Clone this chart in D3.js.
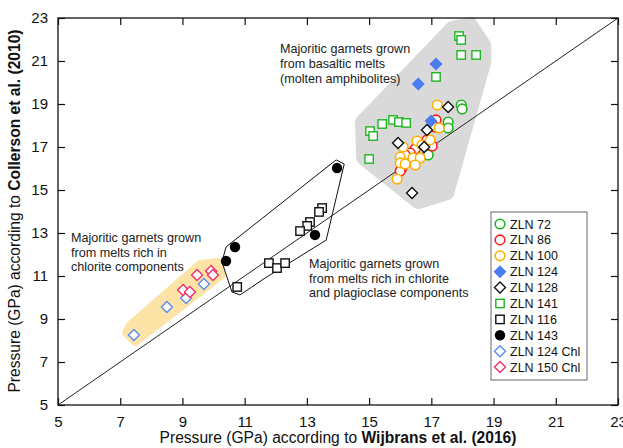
<!DOCTYPE html>
<html><head><meta charset="utf-8">
<script src="https://cdn.jsdelivr.net/npm/d3@7"></script>
<style>body{margin:0;background:#fff}svg{font-family:"Liberation Sans",Arial,sans-serif}</style>
</head><body><svg id="c" width="623" height="448"></svg>
<script>
const xTicks=[5,7,9,11,13,15,17,19,21,23];
const yTicks=[5,7,9,11,13,15,17,19,21,23];
const zln72=[[17.96,18.95],[17.99,18.77],[17.54,18.16],[17.54,17.88],[16.9,16.63]];
const zln86=[[17.15,18.26],[17.12,17.93],[16.86,17.33],[17.03,17.05],[16.48,16.91],[16.32,16.72],[16.16,16.63],[16.06,16.02],[16.0,15.88]];
const zln100=[[17.19,18.95],[17.25,17.88],[16.54,17.28],[16.96,17.33],[16.09,17.0],[16.0,16.53],[16.0,16.26],[16.16,16.21],[16.41,16.49],[16.64,16.49],[16.48,16.16],[16.7,17.09],[15.9,15.51]];
const zln124=[[17.15,20.86],[16.58,19.93],[16.99,18.21]];
const zln128=[[17.54,18.86],[16.86,17.79],[15.93,17.19],[16.77,17.0],[16.38,14.86]];
const zln141=[[17.89,22.16],[17.96,21.98],[17.96,21.28],[18.44,21.28],[17.15,20.26],[15.03,17.74],[15.13,17.51],[15.42,18.07],[15.77,18.26],[15.96,18.16],[16.19,18.12],[15.0,16.44]];
const zln116=[[13.49,14.16],[13.39,13.98],[13.1,13.51],[13.01,13.33],[12.78,13.09],[11.78,11.6],[12.04,11.37],[12.3,11.6],[10.76,10.49]];
const zln143=[[13.97,16.02],[13.26,12.91],[10.69,12.35],[10.4,11.7]];
const zln124chl=[[7.44,8.26],[8.5,9.56],[9.12,9.98],[9.69,10.63]];
const zln150chl=[[9.02,10.35],[9.24,10.26],[9.47,11.05],[9.92,11.23],[9.98,11.05]];
const basalticZone=[[17.67,22.53],[18.25,22.72],[18.7,21.74],[18.7,20.95],[17.51,14.86],[16.58,14.44],[14.81,16.49],[14.77,18.16]];
const chloriteZone=[[7.19,8.35],[7.48,7.93],[10.27,11.05],[10.14,11.65],[9.57,11.56],[7.32,8.72]];
const plagZone=[[13.94,16.4],[14.2,16.21],[13.62,12.67],[11.66,10.91],[10.85,10.12],[10.59,10.26],[10.27,11.65],[10.4,12.35]];
const legendLabels=["ZLN 72","ZLN 86","ZLN 100","ZLN 124","ZLN 128","ZLN 141","ZLN 116","ZLN 143","ZLN 124 Chl","ZLN 150 Chl"];

const svg=d3.select("#c");
const L=58,R=618,T=18,B=405;
const x=d3.scaleLinear().domain([5,23]).range([L,R]);
const y=d3.scaleLinear().domain([5,23]).range([B,T]);

const series=[
 {d:zln141,shape:"square",stroke:"#1fb51f",fill:"#fff"},
 {d:zln72,shape:"circle",stroke:"#1fb51f",fill:"#fff"},
 {d:zln86,shape:"circle",stroke:"#ff1a1a",fill:"#fff"},
 {d:zln100,shape:"circle",stroke:"#ffb000",fill:"#fff"},
 {d:zln124,shape:"diamond",stroke:"#4b7df0",fill:"#4b7df0"},
 {d:zln128,shape:"diamond",stroke:"#111",fill:"#fff"},
 {d:zln116,shape:"square",stroke:"#111",fill:"#fff"},
 {d:zln143,shape:"dot",stroke:"#000",fill:"#000"},
 {d:zln124chl,shape:"diamond",stroke:"#5a8cf2",fill:"#fff"},
 {d:zln150chl,shape:"diamond",stroke:"#f0306a",fill:"#fff"}
];
const legendStyle=[series[1],series[2],series[3],series[4],series[5],series[0],series[6],series[7],series[8],series[9]];

// zones
const line=d3.line().x(d=>x(d[0])).y(d=>y(d[1])).curve(d3.curveLinearClosed);
svg.append("path").attr("d",line(basalticZone)).attr("fill","#d9d9d9").attr("stroke","#d9d9d9").attr("stroke-width",14).attr("stroke-linejoin","round");
svg.append("path").attr("d",line(chloriteZone)).attr("fill","#fde4a6").attr("stroke","#fde4a6").attr("stroke-width",8).attr("stroke-linejoin","round");
svg.append("path").attr("d",line(plagZone)).attr("fill","none").attr("stroke","#111").attr("stroke-width",1).attr("stroke-linejoin","round");

// 1:1 line
svg.append("line").attr("x1",x(5)).attr("y1",y(5)).attr("x2",x(23)).attr("y2",y(23)).attr("stroke","#222").attr("stroke-width",1);

// axes box with inward ticks
svg.append("rect").attr("x",L).attr("y",T).attr("width",R-L).attr("height",B-T).attr("fill","none").attr("stroke","#111").attr("stroke-width",1.3);
const tl=7;
const gx=svg.append("g").attr("transform",`translate(0,${B})`).call(d3.axisBottom(x).tickValues(xTicks).tickSize(-tl).tickPadding(tl+4).tickFormat(d3.format("d")));
const gxt=svg.append("g").attr("transform",`translate(0,${T})`).call(d3.axisTop(x).tickValues(xTicks).tickSize(-tl).tickFormat(""));
const gy=svg.append("g").attr("transform",`translate(${L},0)`).call(d3.axisLeft(y).tickValues(yTicks).tickSize(-tl).tickPadding(tl+3).tickFormat(d3.format("d")));
const gyr=svg.append("g").attr("transform",`translate(${R},0)`).call(d3.axisRight(y).tickValues(yTicks).tickSize(-tl).tickFormat(""));
[gx,gxt,gy,gyr].forEach(g=>{g.select(".domain").remove();g.selectAll("line").attr("stroke","#111").attr("stroke-width",1.2);
 g.selectAll("text").attr("font-size",15).attr("fill","#111").attr("font-family","'Liberation Sans',Arial,sans-serif");});

// markers
function drawMarker(g,s,cx,cy){
 if(s.shape==="circle") g.append("circle").attr("cx",cx).attr("cy",cy).attr("r",4.8).attr("fill",s.fill).attr("stroke",s.stroke).attr("stroke-width",1.6);
 else if(s.shape==="dot") g.append("circle").attr("cx",cx).attr("cy",cy).attr("r",5.2).attr("fill",s.fill).attr("stroke","none");
 else if(s.shape==="square") g.append("rect").attr("x",cx-4.2).attr("y",cy-4.2).attr("width",8.4).attr("height",8.4).attr("fill",s.fill).attr("stroke",s.stroke).attr("stroke-width",1.4);
 else if(s.shape==="diamond") g.append("path").attr("d",`M${cx},${cy-5.5}L${cx+5.5},${cy}L${cx},${cy+5.5}L${cx-5.5},${cy}Z`).attr("fill",s.fill).attr("stroke",s.stroke).attr("stroke-width",1.4);
}
const mg=svg.append("g");
series.forEach(s=>s.d.forEach(p=>drawMarker(mg,s,x(p[0]),y(p[1]))));

// annotations
function multi(lines,px,py,dy){const t=svg.append("text").attr("font-size",12.6).attr("fill","#222");
 lines.forEach((l,i)=>t.append("tspan").attr("x",px).attr("y",py+i*dy).text(l));}
multi(["Majoritic garnets grown","from basaltic melts","(molten amphibolites)"],280,53,15);
multi(["Majoritic garnets grown","from melts rich in","chlorite components"],71,242,14.5);
multi(["Majoritic garnets grown","from melts rich in chlorite","and plagioclase components"],309,268,14.5);

// legend
const lg=svg.append("g");
lg.append("rect").attr("x",491).attr("y",212).attr("width",96).attr("height",168).attr("fill","#fff").attr("stroke","#666").attr("stroke-width",1);
legendLabels.forEach((lab,i)=>{const cy=224+i*15.9;drawMarker(lg,legendStyle[i],500,cy);
 lg.append("text").attr("x",510).attr("y",cy+4.5).attr("font-size",12.5).attr("fill","#111").text(lab);});

// axis titles
const xt=svg.append("text").attr("x",338).attr("y",443).attr("text-anchor","middle").attr("font-size",15.6).attr("fill","#111");
xt.append("tspan").text("Pressure (GPa) according to ");
xt.append("tspan").attr("font-weight","bold").text("Wijbrans et al. (2016)");
const yt=svg.append("text").attr("transform",`translate(20,211) rotate(-90)`).attr("text-anchor","middle").attr("font-size",15.6).attr("fill","#111");
yt.append("tspan").text("Pressure (GPa) according to ");
yt.append("tspan").attr("font-weight","bold").text("Collerson et al. (2010)");
</script></body></html>
